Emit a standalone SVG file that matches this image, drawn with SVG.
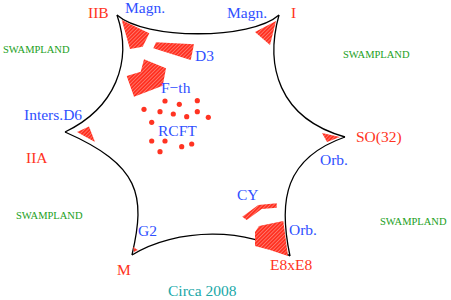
<svg xmlns="http://www.w3.org/2000/svg" width="451" height="300" viewBox="0 0 451 300">
<style>
text{font-family:"Liberation Serif","Times New Roman",serif;font-size:15.5px}
.r{fill:#ff3322}
.b{fill:#3050ff}
.g{fill:#22a022;font-size:10.5px}
.t{fill:#20a8a8}
.edge{fill:none;stroke:#000;stroke-width:1.3}
.reg{fill:url(#hatch)}
.dot{fill:#ff3322}
</style>
<defs>
<pattern id="hatch" patternUnits="userSpaceOnUse" width="2.6" height="2.6" patternTransform="rotate(45)">
<rect width="2.6" height="2.6" fill="#ff2e1e"/>
<line x1="0.5" y1="0" x2="0.5" y2="2.6" stroke="#ffffff" stroke-width="0.6" stroke-opacity="0.55"/>
</pattern>
</defs>
<rect width="451" height="300" fill="#fff"/>
<g id="connectors">
<path class="edge" d="M117,15 C145,40 251,40 279,15"/>
<path class="edge" d="M279,15 C265,65 278,118 345,137"/>
<path class="edge" d="M345,137 C285,158 278,200 290,256"/>
<path class="edge" d="M290,256 C250,226 175,228 132,255"/>
<path class="edge" d="M132,255 C146,195 140,165 65,132"/>
<path class="edge" d="M65,132 C115,108 133,62 117,15"/>
</g>
<g id="regions">
<polygon id="r-magn1" class="reg" points="121.7,20 149.3,33.3 142.7,46.7 130,49"/>
<polygon id="r-d3" class="reg" points="156,42.3 194,44.3 190.7,60 153.3,48.3"/>
<polygon id="r-fth" class="reg" points="144,59.3 166,68.3 162.7,85.7 134,96.7 126.7,76 140.7,71.7"/>
<polygon id="r-magn2" class="reg" points="255,32 276,21 270,45"/>
<polygon id="r-so32" class="reg" points="322,133 340,137 327,142"/>
<polygon id="r-d6" class="reg" points="77,132 89,126.5 95,142"/>
<polygon id="r-g2" class="reg" points="133,247 138,250 134,252"/>
<polygon id="r-cy" class="reg" points="242.3,216.7 258.3,205 276.7,203.3 276.7,207.7 261.7,209 246.7,220"/>
<polygon id="r-orb" class="reg" points="255,232 259,226 283.3,221 288,256 270,250 255,246"/>
</g>
<g id="rcft-dots">
<circle class="dot" cx="165" cy="101" r="2.6"/>
<circle class="dot" cx="179.3" cy="104.3" r="2.6"/>
<circle class="dot" cx="197.3" cy="100.7" r="2.6"/>
<circle class="dot" cx="144" cy="109.3" r="2.6"/>
<circle class="dot" cx="160" cy="111.7" r="2.6"/>
<circle class="dot" cx="173.3" cy="114" r="2.6"/>
<circle class="dot" cx="186.7" cy="116.7" r="2.6"/>
<circle class="dot" cx="197.3" cy="111.7" r="2.6"/>
<circle class="dot" cx="208.3" cy="117.3" r="2.6"/>
<circle class="dot" cx="151.7" cy="122.3" r="2.6"/>
<circle class="dot" cx="151.7" cy="141" r="2.6"/>
<circle class="dot" cx="165" cy="141" r="2.6"/>
<circle class="dot" cx="181.7" cy="146.7" r="2.6"/>
<circle class="dot" cx="191.7" cy="144" r="2.6"/>
<circle class="dot" cx="160" cy="151.7" r="2.6"/>
</g>
<g id="labels">
<text class="r" x="88" y="18">IIB</text>
<text class="b" x="125" y="13">Magn.</text>
<text class="b" x="227" y="18">Magn.</text>
<text class="r" x="291" y="18">I</text>
<text class="b" x="195" y="61">D3</text>
<text class="b" x="161" y="93">F−th</text>
<text class="b" x="158" y="136">RCFT</text>
<text class="b" x="24" y="120">Inters.D6</text>
<text class="r" x="26" y="163">IIA</text>
<text class="r" x="356" y="142">SO(32)</text>
<text class="b" x="320" y="165">Orb.</text>
<text class="b" x="237" y="200">CY</text>
<text class="b" x="289" y="235">Orb.</text>
<text class="r" x="270" y="270">E8xE8</text>
<text class="b" x="138" y="236">G2</text>
<text class="r" x="117" y="275">M</text>
<text class="t" x="168" y="296">Circa 2008</text>
<text class="g" x="3" y="52.5">SWAMPLAND</text>
<text class="g" x="343" y="57.5">SWAMPLAND</text>
<text class="g" x="16" y="219">SWAMPLAND</text>
<text class="g" x="380" y="224.5">SWAMPLAND</text>
</g>
</svg>
